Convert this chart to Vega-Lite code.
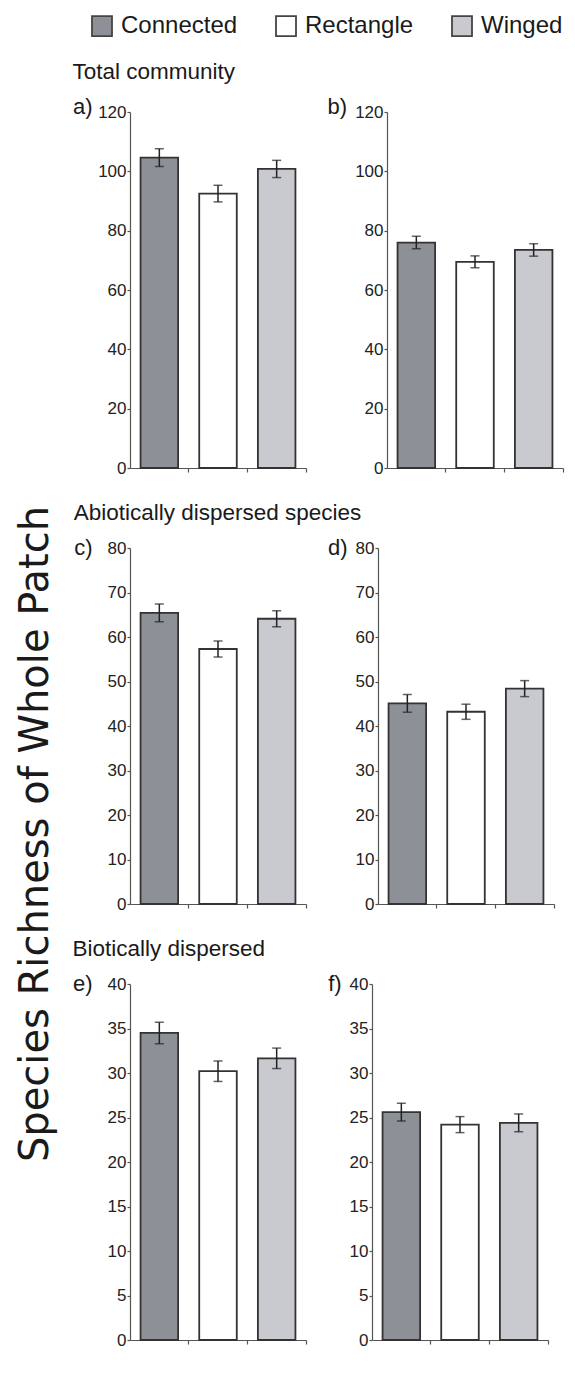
{
  "$schema": "https://vega.github.io/schema/vega-lite/v6.json",
  "background": "white",
  "padding": {"left": 16, "top": 14, "right": 10, "bottom": 30},
  "datasets": {
    "rich": [
      {"panel": "a", "shape": "Connected", "mean": 104.6, "err": 3.0},
      {"panel": "a", "shape": "Rectangle", "mean": 92.5, "err": 2.8},
      {"panel": "a", "shape": "Winged", "mean": 100.8, "err": 2.9},
      {"panel": "b", "shape": "Connected", "mean": 76.0, "err": 2.1},
      {"panel": "b", "shape": "Rectangle", "mean": 69.5, "err": 2.0},
      {"panel": "b", "shape": "Winged", "mean": 73.5, "err": 2.1},
      {"panel": "c", "shape": "Connected", "mean": 65.4, "err": 2.0},
      {"panel": "c", "shape": "Rectangle", "mean": 57.3, "err": 1.8},
      {"panel": "c", "shape": "Winged", "mean": 64.1, "err": 1.8},
      {"panel": "d", "shape": "Connected", "mean": 45.1, "err": 2.0},
      {"panel": "d", "shape": "Rectangle", "mean": 43.2, "err": 1.7},
      {"panel": "d", "shape": "Winged", "mean": 48.4, "err": 1.8},
      {"panel": "e", "shape": "Connected", "mean": 34.5, "err": 1.2},
      {"panel": "e", "shape": "Rectangle", "mean": 30.2, "err": 1.15},
      {"panel": "e", "shape": "Winged", "mean": 31.65, "err": 1.15},
      {"panel": "f", "shape": "Connected", "mean": 25.6, "err": 1.0},
      {"panel": "f", "shape": "Rectangle", "mean": 24.2, "err": 0.9},
      {"panel": "f", "shape": "Winged", "mean": 24.4, "err": 1.0}
    ]
  },
  "data": {"name": "rich"},
  "title": {"text": "Species Richness of Whole Patch", "orient": "left", "anchor": "middle", "font": "DejaVu Sans", "fontSize": 40, "fontWeight": "normal", "color": "#1a1a1a", "offset": 16, "dx": -153},
  "spacing": 25,
  "vconcat": [
    {
      "title": {"text": "Total community", "anchor": "start", "font": "Liberation Sans", "fontSize": 22.5, "fontWeight": "normal", "color": "#1a1a1a", "offset": 12},
      "spacing": 20,
      "hconcat": [
        {
          "width": 176, "height": 356,
          "transform": [{"filter": "datum.panel === 'a'"}],
          "encoding": {
            "x": {"field": "shape", "type": "nominal", "sort": ["Connected", "Rectangle", "Winged"], "scale": {"paddingInner": 0, "paddingOuter": 0}, "axis": {"title": null}},
            "y": {"field": "mean", "type": "quantitative", "scale": {"domain": [0, 120], "nice": false}, "axis": {"values": [0, 20, 40, 60, 80, 100, 120], "title": "a)", "titleY": -6, "titleX": -38}}
          },
          "layer": [
            {"mark": {"type": "bar", "width": {"band": 0.64}},
             "encoding": {"fill": {"field": "shape", "type": "nominal", "scale": {"domain": ["Connected", "Rectangle", "Winged"], "range": ["#8d9096", "#ffffff", "#c9cad0"]},
               "legend": {"orient": "none", "legendX": -40, "legendY": -98, "direction": "horizontal", "title": null, "symbolType": "square", "symbolSize": 400, "symbolStrokeColor": "#444", "symbolStrokeWidth": 1.5, "symbolOpacity": 1, "labelFontSize": 24, "labelFont": "Liberation Sans", "labelColor": "#1a1a1a", "labelOffset": 7, "columnPadding": 34}}}},
            {"mark": {"type": "errorbar", "ticks": {"size": 9, "thickness": 1.5, "color": "#222"}, "thickness": 1.5, "color": "#222"},
             "encoding": {"yError": {"field": "err"}}}
          ]
        },
        {
          "width": 176, "height": 356,
          "transform": [{"filter": "datum.panel === 'b'"}],
          "encoding": {
            "x": {"field": "shape", "type": "nominal", "sort": ["Connected", "Rectangle", "Winged"], "scale": {"paddingInner": 0, "paddingOuter": 0}, "axis": {"title": null}},
            "y": {"field": "mean", "type": "quantitative", "scale": {"domain": [0, 120], "nice": false}, "axis": {"values": [0, 20, 40, 60, 80, 100, 120], "title": "b)", "titleY": -6}}
          },
          "layer": [
            {"mark": {"type": "bar", "width": {"band": 0.64}},
             "encoding": {"fill": {"field": "shape", "type": "nominal", "legend": null}}},
            {"mark": {"type": "errorbar", "ticks": {"size": 9, "thickness": 1.5, "color": "#222"}, "thickness": 1.5, "color": "#222"},
             "encoding": {"yError": {"field": "err"}}}
          ]
        }
      ]
    },
    {
      "title": {"text": "Abiotically dispersed species", "anchor": "start", "font": "Liberation Sans", "fontSize": 22.5, "fontWeight": "normal", "color": "#1a1a1a", "offset": 12},
      "spacing": 20,
      "hconcat": [
        {
          "width": 176, "height": 356,
          "transform": [{"filter": "datum.panel === 'c'"}],
          "encoding": {
            "x": {"field": "shape", "type": "nominal", "sort": ["Connected", "Rectangle", "Winged"], "scale": {"paddingInner": 0, "paddingOuter": 0}, "axis": {"title": null}},
            "y": {"field": "mean", "type": "quantitative", "scale": {"domain": [0, 80], "nice": false}, "axis": {"values": [0, 10, 20, 30, 40, 50, 60, 70, 80], "title": "c)", "titleY": -1, "titleX": -38}}
          },
          "layer": [
            {"mark": {"type": "bar", "width": {"band": 0.64}},
             "encoding": {"fill": {"field": "shape", "type": "nominal", "legend": null}}},
            {"mark": {"type": "errorbar", "ticks": {"size": 9, "thickness": 1.5, "color": "#222"}, "thickness": 1.5, "color": "#222"},
             "encoding": {"yError": {"field": "err"}}}
          ]
        },
        {
          "width": 176, "height": 356,
          "transform": [{"filter": "datum.panel === 'd'"}],
          "encoding": {
            "x": {"field": "shape", "type": "nominal", "sort": ["Connected", "Rectangle", "Winged"], "scale": {"paddingInner": 0, "paddingOuter": 0}, "axis": {"title": null}},
            "y": {"field": "mean", "type": "quantitative", "scale": {"domain": [0, 80], "nice": false}, "axis": {"values": [0, 10, 20, 30, 40, 50, 60, 70, 80], "title": "d)", "titleY": -1}}
          },
          "layer": [
            {"mark": {"type": "bar", "width": {"band": 0.64}},
             "encoding": {"fill": {"field": "shape", "type": "nominal", "legend": null}}},
            {"mark": {"type": "errorbar", "ticks": {"size": 9, "thickness": 1.5, "color": "#222"}, "thickness": 1.5, "color": "#222"},
             "encoding": {"yError": {"field": "err"}}}
          ]
        }
      ]
    },
    {
      "title": {"text": "Biotically dispersed", "anchor": "start", "font": "Liberation Sans", "fontSize": 22.5, "fontWeight": "normal", "color": "#1a1a1a", "offset": 12},
      "spacing": 20,
      "hconcat": [
        {
          "width": 176, "height": 356,
          "transform": [{"filter": "datum.panel === 'e'"}],
          "encoding": {
            "x": {"field": "shape", "type": "nominal", "sort": ["Connected", "Rectangle", "Winged"], "scale": {"paddingInner": 0, "paddingOuter": 0}, "axis": {"title": null}},
            "y": {"field": "mean", "type": "quantitative", "scale": {"domain": [0, 40], "nice": false}, "axis": {"values": [0, 5, 10, 15, 20, 25, 30, 35, 40], "title": "e)", "titleY": -1, "titleX": -38}}
          },
          "layer": [
            {"mark": {"type": "bar", "width": {"band": 0.64}},
             "encoding": {"fill": {"field": "shape", "type": "nominal", "legend": null}}},
            {"mark": {"type": "errorbar", "ticks": {"size": 9, "thickness": 1.5, "color": "#222"}, "thickness": 1.5, "color": "#222"},
             "encoding": {"yError": {"field": "err"}}}
          ]
        },
        {
          "width": 176, "height": 356,
          "transform": [{"filter": "datum.panel === 'f'"}],
          "encoding": {
            "x": {"field": "shape", "type": "nominal", "sort": ["Connected", "Rectangle", "Winged"], "scale": {"paddingInner": 0, "paddingOuter": 0}, "axis": {"title": null}},
            "y": {"field": "mean", "type": "quantitative", "scale": {"domain": [0, 40], "nice": false}, "axis": {"values": [0, 5, 10, 15, 20, 25, 30, 35, 40], "title": "f)", "titleY": -1}}
          },
          "layer": [
            {"mark": {"type": "bar", "width": {"band": 0.64}},
             "encoding": {"fill": {"field": "shape", "type": "nominal", "legend": null}}},
            {"mark": {"type": "errorbar", "ticks": {"size": 9, "thickness": 1.5, "color": "#222"}, "thickness": 1.5, "color": "#222"},
             "encoding": {"yError": {"field": "err"}}}
          ]
        }
      ]
    }
  ],
  "config": {
    "view": {"stroke": null},
    "bar": {"stroke": "#333", "strokeWidth": 1.8, "fillOpacity": 1},
    "axis": {"grid": false, "domainColor": "#555", "tickColor": "#555", "domainWidth": 1.2, "tickWidth": 1.2, "labelFont": "Liberation Sans", "labelFontSize": 17, "labelColor": "#222", "titleFont": "Liberation Sans", "titleFontSize": 22, "titleFontWeight": "normal", "titleColor": "#1a1a1a"},
    "axisY": {"tickSize": 3, "labelPadding": 1, "titleAngle": 0, "titleAlign": "right", "titleBaseline": "middle", "titleAnchor": "end", "titlePadding": 8},
    "axisX": {"labels": false, "tickSize": 4, "bandPosition": 1}
  }
}
